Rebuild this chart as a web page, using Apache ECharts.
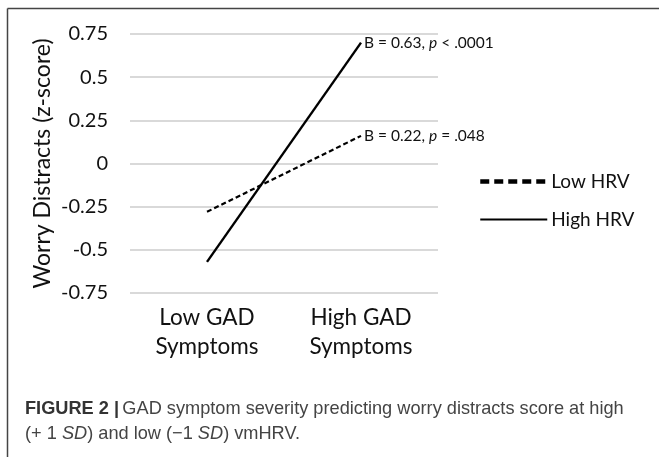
<!DOCTYPE html>
<html>
<head>
<meta charset="utf-8">
<script src="https://cdn.jsdelivr.net/npm/echarts@6/dist/echarts.min.js"></script>
<style>
html,body{margin:0;padding:0;background:#fff;}
#c{width:659px;height:457px;}
</style>
</head>
<body>
<div id="c"></div>
<script>
var categories = ['Low GAD\nSymptoms', 'High GAD\nSymptoms'];
var lowHRV = [-0.28, 0.16];
var highHRV = [-0.57, 0.70];
var yTicks = [-0.75, -0.5, -0.25, 0, 0.25, 0.5, 0.75];
var seriesNames = ['Low HRV', 'High HRV'];
var annotations = [
  ['B = 0.22, ', 'p', ' = .048'],
  ['B = 0.63, ', 'p', ' < .0001']
];

var FONT = 'Lato, "Open Sans", sans-serif';
var CAP = '"Liberation Sans", Arial, sans-serif';
var chart = echarts.init(document.getElementById('c'));

function endLabel(parts) {
  return {
    show: true,
    distance: 3,
    formatter: '{a|' + parts[0] + '}{i|' + parts[1] + '}{a|' + parts[2] + '}',
    rich: {
      a: {fontFamily: FONT, fontSize: 15.5, color: '#111'},
      i: {fontFamily: FONT, fontSize: 15.5, color: '#111', fontStyle: 'italic'}
    }
  };
}

chart.setOption({
  animation: false,
  backgroundColor: '#fff',
  grid: {left: 130, right: 221, top: 34, bottom: 164},
  xAxis: {
    type: 'category',
    data: categories,
    boundaryGap: true,
    axisLine: {show: false},
    axisTick: {show: false},
    axisLabel: {fontFamily: FONT, fontSize: 22.5, color: '#111', lineHeight: 29, margin: 10}
  },
  yAxis: {
    type: 'value',
    min: yTicks[0],
    max: yTicks[yTicks.length - 1],
    interval: 0.25,
    name: 'Worry Distracts (z-score)',
    nameLocation: 'middle',
    nameGap: 76,
    nameTextStyle: {fontFamily: FONT, fontSize: 23, color: '#111'},
    axisLine: {show: false},
    axisTick: {show: false},
    splitLine: {lineStyle: {color: '#d9d9d9', width: 2}},
    axisLabel: {fontFamily: FONT, fontSize: 20, color: '#111', margin: 22,
      formatter: function (v) { return String(v); }}
  },
  legend: {
    orient: 'vertical',
    left: 473,
    top: 167,
    itemGap: 19,
    itemWidth: 67,
    itemHeight: 22,
    itemStyle: {color: 'transparent', borderWidth: 0, opacity: 0},
    textStyle: {fontFamily: FONT, fontSize: 19, color: '#111', padding: [0, 0, 0, -1]},
    data: [
      {name: seriesNames[0], lineStyle: {width: 4.5, type: [9, 5], color: '#000'}},
      {name: seriesNames[1], lineStyle: {width: 2, color: '#000'}}
    ]
  },
  series: [
    {
      name: seriesNames[0],
      type: 'line',
      data: lowHRV,
      symbol: 'none',
      lineStyle: {color: '#000', width: 2.2, type: [5, 3]},
      itemStyle: {color: '#000'},
      endLabel: endLabel(annotations[0])
    },
    {
      name: seriesNames[1],
      type: 'line',
      data: highHRV,
      symbol: 'none',
      lineStyle: {color: '#000', width: 2.4},
      itemStyle: {color: '#000'},
      endLabel: endLabel(annotations[1])
    }
  ],
  graphic: [
    {type: 'line', shape: {x1: 7.5, y1: 8.5, x2: 659, y2: 8.5}, style: {stroke: '#444', lineWidth: 1.5}},
    {type: 'line', shape: {x1: 7.5, y1: 8.5, x2: 7.5, y2: 457}, style: {stroke: '#444', lineWidth: 1.5}},
    {type: 'text', left: 25, top: 400, style: {
      text: '{b|FIGURE 2 |} {n|GAD symptom severity predicting worry distracts score at high}',
      rich: {
        b: {fontFamily: CAP, fontSize: 18.2, fontWeight: 'bold', fill: '#333'},
        n: {fontFamily: CAP, fontSize: 18.2, fill: '#444'}
      }
    }},
    {type: 'text', left: 25, top: 425, style: {
      text: '{n|(+ 1 }{i|SD}{n|) and low (\u22121 }{i|SD}{n|) vmHRV.}',
      rich: {
        n: {fontFamily: CAP, fontSize: 18.2, fill: '#444'},
        i: {fontFamily: CAP, fontSize: 18.2, fill: '#444', fontStyle: 'italic'}
      }
    }}
  ]
});
</script>
</body>
</html>
